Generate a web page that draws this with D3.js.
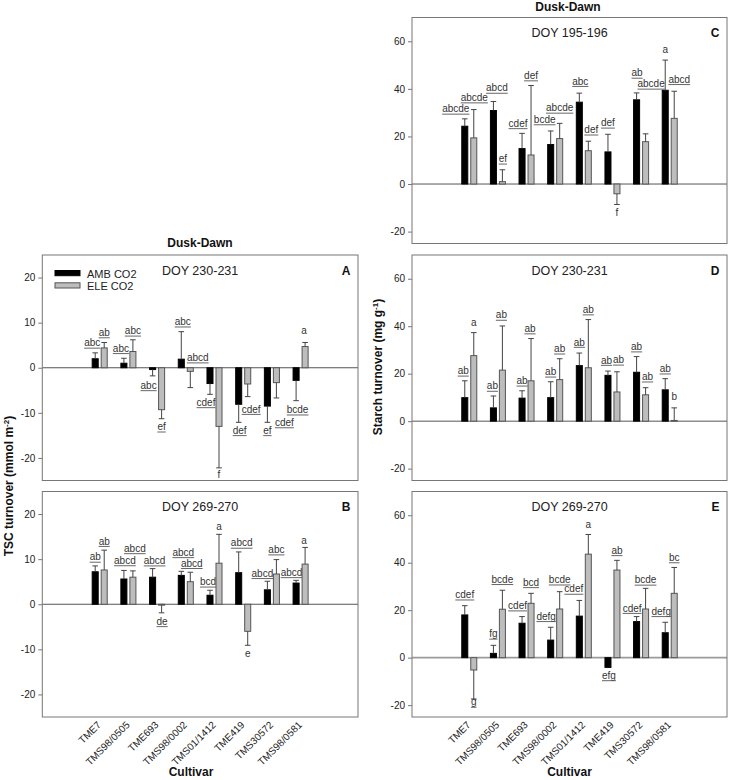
<!DOCTYPE html>
<html><head><meta charset="utf-8">
<script src="https://cdn.jsdelivr.net/npm/d3@7"></script>
<style>body{margin:0;background:#fff} svg{display:block} text{font-family:"Liberation Sans",Arial,Helvetica,sans-serif}</style>
</head><body><svg id="c" width="729" height="780"></svg>
<script>
// ---------------- DATA ----------------
const cultivars = ["TME7","TMS98/0505","TME693","TMS98/0002","TMS01/1412","TME419","TMS30572","TMS98/0581"];
const seriesNames = ["AMB CO2","ELE CO2"];
const ticksTSC = [-20,-10,0,10,20];
const ticksStarch = [-20,0,20,40,60];

// Panel A: TSC turnover, DOY 230-231
const ambA   = [2.0, 1.0, -0.4, 1.9, -3.5, -8.1, -8.5, -2.8];
const ambSeA = [1.3, 1.1, 1.4, 6.1, 2.4, 4.0, 3.6, 4.5];
const eleA   = [4.4, 3.6, -9.3, -0.8, -13.0, -3.6, -3.3, 4.7];
const eleSeA = [1.2, 2.6, 2.0, 3.6, 9.2, 2.8, 3.4, 0.9];
const ambLetA = ["abc","abc","abc","abc","cdef","def","ef","bcde"];
const eleLetA = ["ab","abc","ef","abcd","f","cdef","cdef","a"];

// Panel B: TSC turnover, DOY 269-270
const ambB   = [7.2, 5.6, 6.0, 6.4, 2.0, 7.0, 3.2, 4.7];
const ambSeB = [1.3, 1.9, 1.9, 0.9, 1.1, 4.6, 1.9, 0.6];
const eleB   = [7.6, 6.0, -0.2, 5.0, 9.1, -6.0, 6.7, 8.9];
const eleSeB = [4.4, 1.4, 1.7, 2.1, 6.4, 3.1, 3.2, 3.7];
const ambLetB = ["ab","abcd","abcd","abcd","bcd","abcd","abcd","abcd"];
const eleLetB = ["ab","abcd","de","abcd","a","e","abc","a"];

// Panel C: Starch turnover, DOY 195-196
const ambC   = [24.3, 30.9, 14.9, 16.6, 34.4, 13.5, 35.4, 39.4];
const ambSeC = [3.1, 3.8, 6.4, 5.7, 3.8, 7.4, 2.9, 12.7];
const eleC   = [19.4, 1.0, 12.2, 19.1, 14.0, -4.1, 17.8, 27.6];
const eleSeC = [11.9, 5.0, 29.2, 6.4, 4.0, 4.5, 3.3, 11.4];
const ambLetC = ["abcde","abcd","cdef","bcde","abc","def","ab","a"];
const eleLetC = ["abcde","ef","def","abcde","def","f","abcde","abcd"];

// Panel D: Starch turnover, DOY 230-231
const ambD   = [9.9, 5.6, 9.7, 9.9, 23.4, 19.3, 20.6, 13.2];
const ambSeD = [7.1, 5.0, 3.1, 6.7, 5.3, 1.8, 6.6, 4.7];
const eleD   = [27.6, 21.5, 17.0, 17.5, 22.5, 12.3, 11.1, 0.3];
const eleSeD = [9.7, 18.6, 17.8, 8.8, 20.3, 8.5, 3.0, 5.3];
const ambLetD = ["ab","ab","ab","ab","ab","ab","ab","ab"];
const eleLetD = ["a","ab","ab","ab","ab","ab","ab","b"];

// Panel E: Starch turnover, DOY 269-270
const ambE   = [18.0, 1.8, 14.5, 7.4, 17.5, -4.1, 15.2, 10.5];
const ambSeE = [3.9, 3.4, 2.8, 5.4, 6.6, 0, 2.1, 4.4];
const eleE   = [-5.2, 20.4, 22.9, 20.5, 43.6, 36.9, 20.5, 27.1];
const eleSeE = [12.2, 8.0, 4.2, 7.3, 8.3, 4.1, 8.7, 10.9];
const ambLetE = ["cdef","fg","cdef","defg","cdef","efg","cdef","defg"];
const eleLetE = ["g","bcde","bcd","bcde","a","ab","bcde","bc"];

// letters shown without underline
const plainLetters = ["a","b","e","f"];

// ---------------- LAYOUT (label nudges in px) ----------------
const nudge = {
  A: [[[-3,0],[-3,0],[-4,1.5],[1.5,0],[-4,0],[1,0],[0,0],[1.5,1]],
      [[0,0],[0,1],[0,0],[7.5,-38],[0,-1.5],[3.5,4.5],[8,16.5],[-1,-1.5]]],
  B: [[[0,1],[1,0],[2,2],[2,-9],[-2,1.5],[3,1],[-5,2],[-4.5,2]],
      [[0,1],[2,-12.5],[0.5,0.5],[1.5,1],[0,2.5],[0,0],[0,0],[-1,3]]],
  C: [[[-9,0],[3.5,-3.5],[-4,0],[-6,-1.5],[1,-2],[0,-1.5],[0.5,-10],[0,-1]],
      [[0.5,-2],[0.5,-1],[0,0],[0,-5.5],[3,-1.5],[0,0],[5.5,-40],[5,-2]]],
  D: [[[-1.5,0],[-1,0],[0,0],[0,0],[0,-1],[-1.5,-1],[0,0],[0,0]],
      [[0,0],[-1,-1],[-1,0],[0,0],[0,0],[1.5,-2],[2,-1],[0,-1]]],
  E: [[[0,-1],[0,-1.5],[-4.5,-1],[-4.5,-1],[-5.5,-1.5],[1,0],[-4.5,1.5],[-4,-1]],
      [[0,-5],[0,-1],[0,-1],[0,-2],[0,0],[0,0],[0,1.5],[0,0]]]
};

const FONT = '"Liberation Sans",Arial,Helvetica,sans-serif';
const svg = d3.select("#c");
const fills = ["#000000", "#bdbdbd"];
const strokes = ["#000000", "#555555"];
const barOff = 0.157, barW = 0.21; // in category units

const panels = [
  {id:"A", x0:42.3, y0:255, w:315.7, h:225.5, dom:[-25,25], ticks:ticksTSC, title:"DOY 230-231",
   vals:[ambA,eleA], ses:[ambSeA,eleSeA], lets:[ambLetA,eleLetA], legend:true},
  {id:"B", x0:42.3, y0:491.5, w:315.7, h:225.5, dom:[-25,25], ticks:ticksTSC, title:"DOY 269-270",
   vals:[ambB,eleB], ses:[ambSeB,eleSeB], lets:[ambLetB,eleLetB], xlabels:true},
  {id:"C", x0:412, y0:17.5, w:315, h:226, dom:[-25,70], ticks:ticksStarch, title:"DOY 195-196",
   vals:[ambC,eleC], ses:[ambSeC,eleSeC], lets:[ambLetC,eleLetC]},
  {id:"D", x0:412, y0:255, w:315, h:225.5, dom:[-25,70], ticks:ticksStarch, title:"DOY 230-231",
   vals:[ambD,eleD], ses:[ambSeD,eleSeD], lets:[ambLetD,eleLetD]},
  {id:"E", x0:412, y0:491.5, w:315, h:225.5, dom:[-25,70], ticks:ticksStarch, title:"DOY 269-270",
   vals:[ambE,eleE], ses:[ambSeE,eleSeE], lets:[ambLetE,eleLetE], xlabels:true, lightZero:true}
];

function drawPanel(p) {
  const g = svg.append("g");
  const x = d3.scaleLinear().domain([0, cultivars.length + 3]).range([p.x0, p.x0 + p.w]);
  const y = d3.scaleLinear().domain(p.dom).range([p.y0 + p.h, p.y0]);
  const bwPx = x(barW) - x(0);

  // y axis
  const ax = g.append("g").attr("transform", `translate(${p.x0},0)`)
    .call(d3.axisLeft(y).tickValues(p.ticks).tickSize(4).tickPadding(3).tickFormat(d => String(d)));
  ax.select(".domain").remove();
  ax.selectAll("line").attr("stroke", "#777");
  ax.selectAll("text").attr("font-size", 10).attr("fill", "#222").attr("font-family", FONT);

  // zero line
  g.append("line").attr("x1", p.x0).attr("x2", p.x0 + p.w).attr("y1", y(0)).attr("y2", y(0))
    .attr("stroke", p.lightZero ? "#9a9a9a" : "#555").attr("stroke-width", p.lightZero ? 1.6 : 1);

  // bars + error bars
  [0, 1].forEach(si => {
    const off = si === 0 ? -barOff : barOff;
    const vals = p.vals[si], ses = p.ses[si];
    const cx = i => x(i + 2 + off);
    g.selectAll(null).data(vals).join("rect")
      .attr("x", (d, i) => cx(i) - bwPx / 2)
      .attr("y", d => Math.min(y(d), y(0)))
      .attr("width", bwPx)
      .attr("height", d => Math.abs(y(d) - y(0)))
      .attr("fill", fills[si]).attr("stroke", strokes[si]).attr("stroke-width", 1);
    const errEnd = (d, i) => d >= 0 ? d + ses[i] : d - ses[i];
    vals.forEach((d, i) => {
      if (ses[i] > 0) {
        const e = errEnd(d, i);
        g.append("line").attr("x1", cx(i)).attr("x2", cx(i)).attr("y1", y(d)).attr("y2", y(e))
          .attr("stroke", "#444").attr("stroke-width", 1);
        g.append("line").attr("x1", cx(i) - 2.8).attr("x2", cx(i) + 2.8).attr("y1", y(e)).attr("y2", y(e))
          .attr("stroke", "#444").attr("stroke-width", 1);
      }
      // letter label
      const txt = p.lets[si][i];
      const nd = nudge[p.id][si][i];
      const ey = y(errEnd(d, i));
      const lx = cx(i) + nd[0];
      const ly = (d >= 0 ? ey - 6.5 : ey + 11.5) + nd[1];
      const t = g.append("text").attr("x", lx).attr("y", ly).attr("text-anchor", "middle")
        .attr("font-size", 10).attr("fill", "#333").attr("font-family", FONT).text(txt);
      if (!plainLetters.includes(txt)) {
        const len = t.node().getComputedTextLength();
        g.append("line").attr("x1", lx - len / 2).attr("x2", lx + len / 2)
          .attr("y1", ly + 1.8).attr("y2", ly + 1.8).attr("stroke", "#555").attr("stroke-width", 0.9);
      }
    });
  });

  // frame
  g.append("rect").attr("x", p.x0).attr("y", p.y0).attr("width", p.w).attr("height", p.h)
    .attr("fill", "none").attr("stroke", "#777").attr("stroke-width", 1);

  // titles
  g.append("text").attr("x", p.x0 + p.w / 2).attr("y", p.y0 + 19.5).attr("text-anchor", "middle")
    .attr("font-size", 12.5).attr("fill", "#222").text(p.title);
  g.append("text").attr("x", p.x0 + p.w - 7.5).attr("y", p.y0 + 19.5).attr("text-anchor", "end")
    .attr("font-size", 12).attr("font-weight", "bold").attr("fill", "#111").text(p.id);

  // legend
  if (p.legend) {
    const lg = g.append("g");
    seriesNames.forEach((s, si) => {
      lg.append("rect").attr("x", 55).attr("y", 270.5 + si * 12.3).attr("width", 25).attr("height", 5.2)
        .attr("fill", fills[si]).attr("stroke", strokes[si]).attr("stroke-width", 1);
      lg.append("text").attr("x", 87).attr("y", 277.5 + si * 12.3).attr("font-size", 11)
        .attr("fill", "#222").text(s);
    });
  }

  // x labels
  if (p.xlabels) {
    cultivars.forEach((c, i) => {
      const px = x(i + 2) + 2, py = p.y0 + p.h + 8.5;
      g.append("text").attr("transform", `translate(${px},${py}) rotate(-45)`)
        .attr("text-anchor", "end").attr("font-size", 10).attr("fill", "#222").text(c);
    });
    g.append("text").attr("x", p.id === "B" ? 191 : p.x0 + p.w / 2).attr("y", 775.5)
      .attr("text-anchor", "middle").attr("font-size", 12).attr("font-weight", "bold").attr("fill", "#111").text("Cultivar");
  }
}

panels.forEach(drawPanel);

// section headers
svg.append("text").attr("x", 200).attr("y", 247).attr("text-anchor", "middle")
  .attr("font-size", 12).attr("font-weight", "bold").attr("fill", "#111").text("Dusk-Dawn");
svg.append("text").attr("x", 568).attr("y", 10.5).attr("text-anchor", "middle")
  .attr("font-size", 12).attr("font-weight", "bold").attr("fill", "#111").text("Dusk-Dawn");

// y axis titles
function yTitle(xp, yp, main, sup) {
  const t = svg.append("text").attr("transform", `translate(${xp},${yp}) rotate(-90)`)
    .attr("text-anchor", "middle").attr("font-size", 12).attr("font-weight", "bold").attr("fill", "#111");
  t.append("tspan").text(main);
  t.append("tspan").attr("font-size", 8).attr("dy", -4.5).text(sup);
  t.append("tspan").attr("dy", 4.5).text(")");
}
yTitle(13, 486, "TSC turnover (mmol m", "-2");
yTitle(382, 367, "Starch turnover (mg g", "-1");
</script></body></html>
